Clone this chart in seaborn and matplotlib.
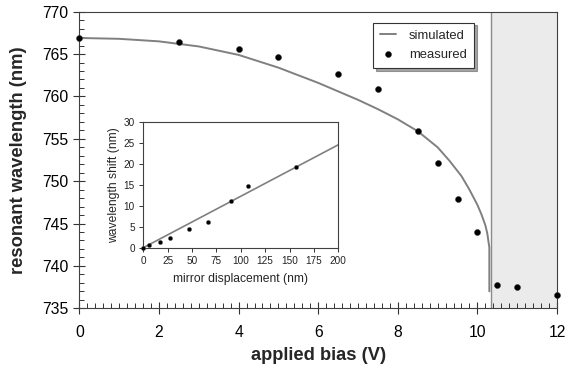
import numpy as np
import pandas as pd
import matplotlib
matplotlib.use("Agg")
import matplotlib.pyplot as plt
import seaborn as sns

# ---- data ----
meas_bias = [0, 2.5, 4, 5, 6.5, 7.5, 8.5, 9, 9.5, 10, 10.5, 11, 12]
meas_wl = [766.9, 766.4, 765.6, 764.6, 762.6, 760.9, 755.9, 752.2, 747.9, 744.0, 737.7, 737.5, 736.6]

sim_bias = [0, 1, 2, 3, 4, 5, 6, 7, 7.5, 8, 8.5, 9, 9.3, 9.6, 9.8, 10, 10.1,
            10.2, 10.25, 10.28, 10.3, 10.3]
sim_wl = [766.9, 766.8, 766.5, 765.9, 764.9, 763.4, 761.6, 759.6, 758.5, 757.3, 755.9,
          754.0, 752.4, 750.6, 749.0, 747.2, 746.1, 744.8, 743.8, 742.8, 742.2, 737.0]

pull_in = 10.33

ins_disp = [0, 6, 17, 27, 47, 66, 90, 107, 157]
ins_shift = [0, 0.6, 1.3, 2.2, 4.4, 6.0, 11.1, 14.7, 19.1]
ins_line_x = [0, 200]
ins_line_y = [0, 24.5]

x_ticks = [0, 2, 4, 6, 8, 10, 12]
y_ticks = [735, 740, 745, 750, 755, 760, 765, 770]
ins_x_ticks = [0, 25, 50, 75, 100, 125, 150, 175, 200]
ins_y_ticks = [0, 5, 10, 15, 20, 25, 30]

sns.set_style("ticks")
plt.rcParams['font.family'] = ['Liberation Sans', 'DejaVu Sans']

fig = plt.figure(figsize=(5.66, 3.75), dpi=100)
ax = fig.add_axes([0.1403, 0.1779, 0.9841 - 0.1403, 0.9688 - 0.1779])

ax.axvspan(pull_in, 12, color='#ebebeb', zorder=0, lw=0)
ax.axvline(pull_in, color='#8a8a8a', lw=1.0, zorder=1)

sim_df = pd.DataFrame({'bias': sim_bias, 'wl': sim_wl})
meas_df = pd.DataFrame({'bias': meas_bias, 'wl': meas_wl})
sns.lineplot(data=sim_df, x='bias', y='wl', ax=ax, color='#808080', lw=1.4,
             label='simulated', sort=False, estimator=None, zorder=2)
sns.scatterplot(data=meas_df, x='bias', y='wl', ax=ax, color='black', s=19,
                edgecolor='#333333', linewidth=0.3, label='measured', zorder=3, clip_on=False)

ax.set_xlim(0, 12)
ax.set_ylim(735, 770)
ax.set_xticks(x_ticks)
ax.set_yticks(y_ticks)
ax.set_xticks(np.arange(0, 12.01, 0.2), minor=True)
ax.set_yticks(np.arange(735, 770.01, 1), minor=True)
ax.tick_params(axis='both', which='major', direction='inout', length=8, width=0.8,
               labelsize=11.3, colors='#333333', labelcolor='black')
ax.tick_params(axis='both', which='minor', direction='in', length=3.5, width=0.7, colors='#333333')
ax.tick_params(axis='x', which='major', pad=8)
ax.tick_params(axis='y', which='major', pad=4)
for sp in ax.spines.values():
    sp.set_color('#404040')
    sp.set_linewidth(0.8)
ax.set_xlabel('applied bias (V)', fontsize=13.2, fontweight='bold', labelpad=5)
ax.set_ylabel('resonant wavelength (nm)', fontsize=13.2, fontweight='bold', labelpad=11)

leg = ax.legend(loc='upper left', bbox_to_anchor=(373 / 566, 1 - 22.7 / 375),
                bbox_transform=fig.transFigure, frameon=True, fancybox=False, shadow=True,
                fontsize=9.4, handlelength=1.2, borderpad=0.55, labelspacing=0.5,
                handletextpad=1.0, borderaxespad=0)
leg.get_frame().set_edgecolor('#333333')
leg.get_frame().set_linewidth(0.8)

# ---- inset ----
axi = fig.add_axes([0.2532, 0.3395, 0.5977 - 0.2532, 0.6755 - 0.3395])
axi.set_facecolor('white')
ins_line_df = pd.DataFrame({'d': ins_line_x, 's': ins_line_y})
ins_df = pd.DataFrame({'d': ins_disp, 's': ins_shift})
sns.lineplot(data=ins_line_df, x='d', y='s', ax=axi, color='#808080', lw=1.2, zorder=2)
sns.scatterplot(data=ins_df, x='d', y='s', ax=axi, color='black', s=9,
                edgecolor='#555555', linewidth=0.3, zorder=3, clip_on=False)
axi.set_xlim(0, 200)
axi.set_ylim(0, 30)
axi.set_xticks(ins_x_ticks)
axi.set_yticks(ins_y_ticks)
axi.tick_params(axis='both', which='major', direction='out', length=3, width=0.7,
                labelsize=7.2, colors='#333333', labelcolor='#222222', pad=3)
for sp in axi.spines.values():
    sp.set_color('#404040')
    sp.set_linewidth(0.8)
axi.set_xlabel('mirror displacement (nm)', fontsize=8.7, labelpad=5)
axi.set_ylabel('wavelength shift (nm)', fontsize=8.7, labelpad=3)

fig.savefig('out.png', dpi=100)
